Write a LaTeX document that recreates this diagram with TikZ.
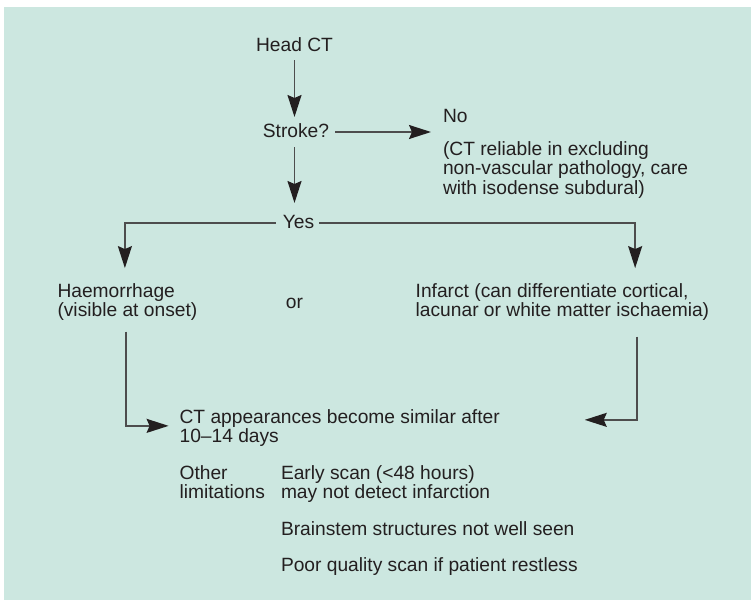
\documentclass[tikz,border=0pt]{standalone}
\usepackage{fontspec}
\setmainfont{Liberation Sans}
\usetikzlibrary{arrows.meta}
\definecolor{bgc}{HTML}{CCE7E0}
\definecolor{txtc}{HTML}{231F20}
\definecolor{linec}{HTML}{4D4D4D}
\begin{document}
\begin{tikzpicture}[x=1pt,y=-1pt,
  tx/.style={font=\fontsize{19.2}{19.5}\selectfont, text=txtc, inner sep=0pt, outer sep=0pt},
  one/.style={tx, text height=14pt, text depth=4pt},
  blk/.style={tx, anchor=base west},
  conn/.style={draw=linec, line width=1.5pt},
  arr/.style={conn, -{Stealth[length=22pt,width=14pt,inset=3pt,color=txtc,fill=txtc]}}]
\useasboundingbox (0,0) rectangle (751,600);
\fill[bgc] (4,7) rectangle (751,600);

% nodes
\node[one, anchor=base] (head) at (294.5,51) {Head CT};
\node[one, anchor=base] (stroke) at (296,137) {Stroke?};
\node[one, anchor=base west] (no) at (443,122) {No};
\node[blk] (nv) at (443,155) {\begin{tabular}[t]{@{}l@{}}(CT reliable in excluding\\non-vascular pathology, care\\with isodense subdural)\end{tabular}};
\node[one, anchor=base] (yes) at (298.5,228) {Yes};
\node[blk] (haem) at (57.5,297) {\begin{tabular}[t]{@{}l@{}}Haemorrhage\\(visible at onset)\end{tabular}};
\node[one, anchor=base] (or) at (294.5,308) {or};
\node[blk] (inf) at (415.7,297) {\begin{tabular}[t]{@{}l@{}}Infarct (can differentiate cortical,\\lacunar or white matter ischaemia)\end{tabular}};
\node[blk] (ct) at (179.6,423) {\begin{tabular}[t]{@{}l@{}}CT appearances become similar after\\10–14 days\end{tabular}};
\node[blk] (other) at (179.6,479) {\begin{tabular}[t]{@{}l@{}}Other\\limitations\end{tabular}};
\node[blk] (early) at (281,479) {\begin{tabular}[t]{@{}l@{}}Early scan (\textless48 hours)\\may not detect infarction\end{tabular}};
\node[blk] (brain) at (281,535) {Brainstem structures not well seen};
\node[blk] (poor) at (281,571.7) {Poor quality scan if patient restless};

% connectors
\draw[arr, shorten <=5pt, shorten >=6pt] (head.south) -- (head.south |- stroke.north);
\draw[arr, shorten <=6pt, shorten >=12pt] (stroke.east) -- (stroke.east -| no.west);
\draw[arr, shorten <=6pt, shorten >=11pt] (stroke.south -| head.south) -- (head.south |- yes.north);
\draw[arr, shorten <=7pt, shorten >=15pt] (yes.west) -| ([xshift=-2.5pt]haem.north);
\draw[arr, shorten <=5pt, shorten >=15pt] (yes.east) -| ([xshift=-74pt]inf.north east);
\draw[arr, shorten <=9pt, shorten >=11pt] ([xshift=-1.5pt]haem.south) |- ([yshift=3pt]ct.west);
\draw[arr, shorten <=14pt, shorten >=85pt] ([xshift=-72pt]inf.south east) |- ([yshift=9pt]ct.east);
\end{tikzpicture}
\end{document}
